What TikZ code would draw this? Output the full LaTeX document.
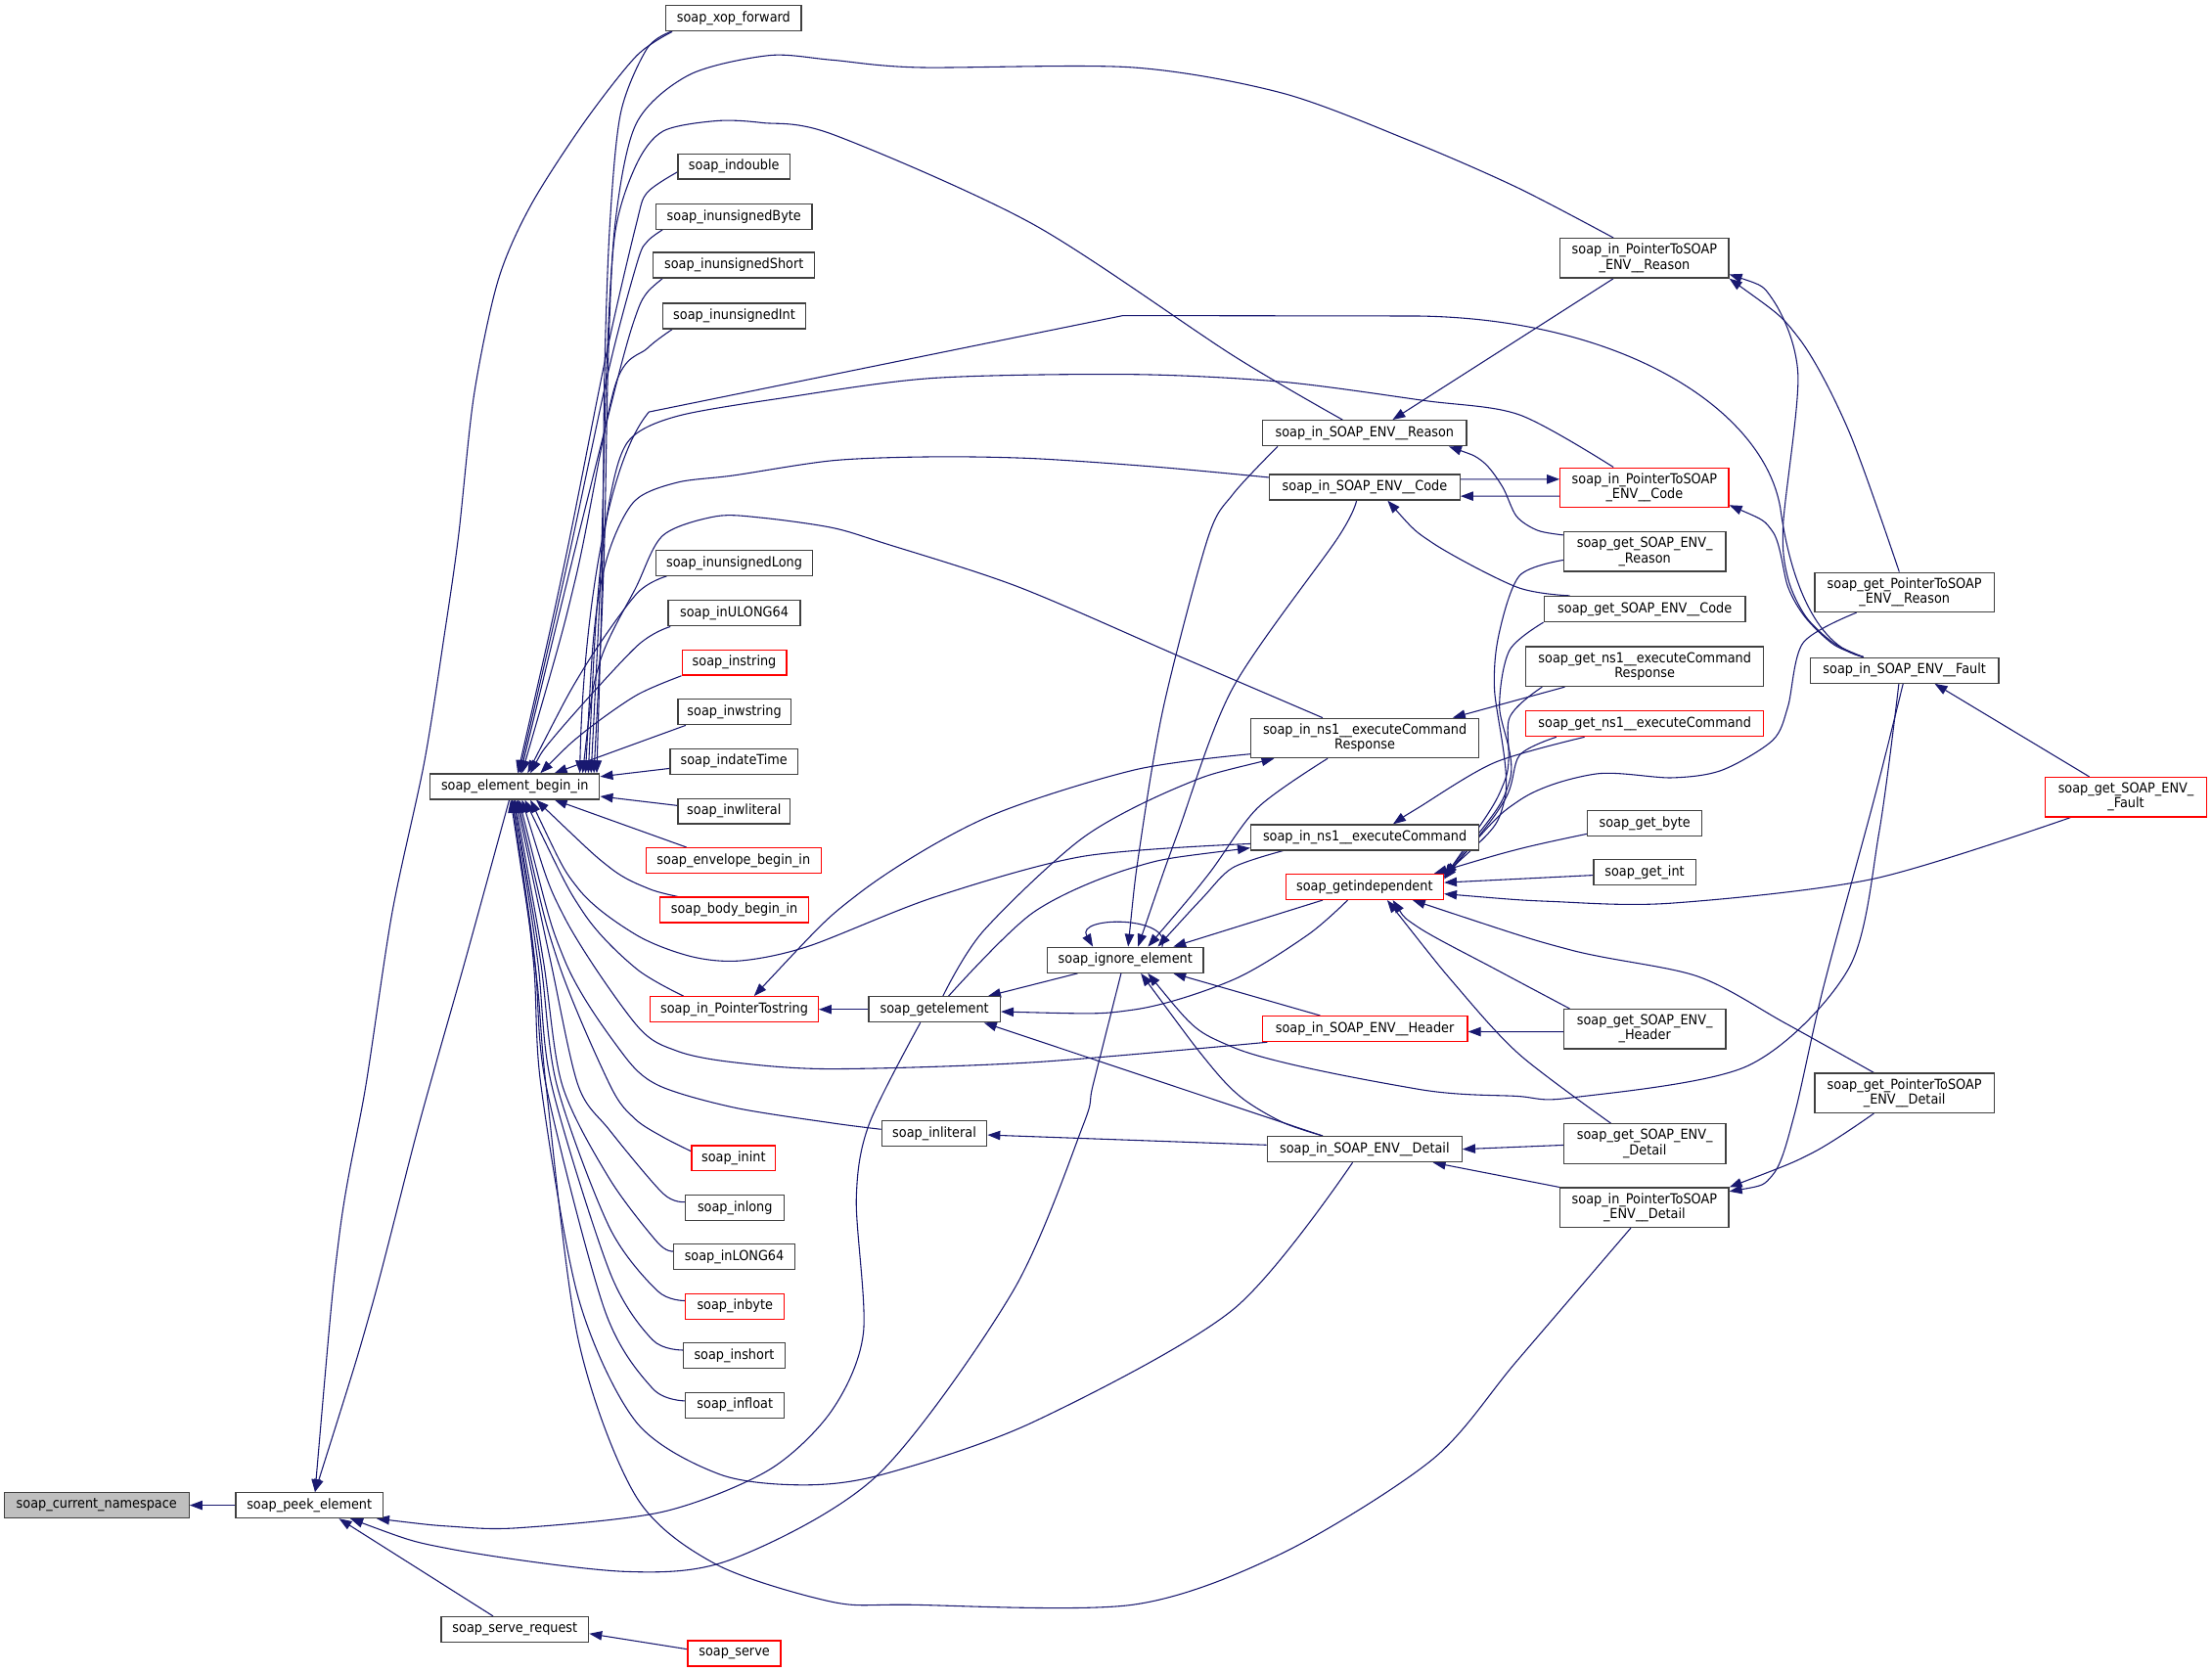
\documentclass[tikz,border=0pt]{standalone}
\usepackage{fontspec}
\setmainfont{DejaVu Sans}[FakeStretch=0.91]
\usetikzlibrary{arrows.meta}
\definecolor{edgecol}{HTML}{191970}
\definecolor{bordercol}{HTML}{404040}
\pgfdeclarelayer{bg}
\pgfsetlayers{bg,main}
\begin{document}
\begin{tikzpicture}[x=1pt,y=-1pt,
  nd/.style={draw=bordercol, line width=0.9pt, fill=white, inner sep=0pt, minimum height=18pt, font=\fontsize{9.8}{10.6}\selectfont, text=black},
  rd/.style={draw=red},
  tw/.style={minimum height=28pt, align=center},
  edg/.style={draw=edgecol, line width=0.75pt, {Triangle[length=9pt,width=6.5pt]}-}]
\useasboundingbox (0,0) rectangle (1568,1185);
% nodes
\node[nd,fill=black!25,minimum width=131pt] (cn) at (68.5,1067) {soap\_current\_namespace};
\node[nd,minimum width=104.5pt] (pe) at (219.3,1067) {soap\_peek\_element};
\node[nd,minimum width=104.5pt] (sr) at (365,1155) {soap\_serve\_request};
\node[nd,rd,minimum width=66pt] (sv) at (520.5,1172) {soap\_serve};
\node[nd,minimum width=120pt] (eb) at (365,557.5) {soap\_element\_begin\_in};
\node[nd,minimum width=96pt] (xf) at (520,13) {soap\_xop\_forward};
\node[nd,minimum width=79.5pt] (idb) at (520.3,118) {soap\_indouble};
\node[nd,minimum width=110.6pt] (iub) at (520.3,153.5) {soap\_inunsignedByte};
\node[nd,minimum width=114.5pt] (ius) at (520.3,188) {soap\_inunsignedShort};
\node[nd,minimum width=101pt] (iui) at (520.5,224) {soap\_inunsignedInt};
\node[nd,minimum width=111pt] (iul) at (520.5,399) {soap\_inunsignedLong};
\node[nd,minimum width=93.6pt] (iU64) at (520.5,434.7) {soap\_inULONG64};
\node[nd,rd,minimum width=74pt] (ist) at (520.5,469.6) {soap\_instring};
\node[nd,minimum width=80pt] (iws) at (520.5,504.7) {soap\_inwstring};
\node[nd,minimum width=90.7pt] (idt) at (520.3,539.7) {soap\_indateTime};
\node[nd,minimum width=79.5pt] (iwl) at (520.3,575) {soap\_inwliteral};
\node[nd,rd,minimum width=124pt] (env) at (520,610) {soap\_envelope\_begin\_in};
\node[nd,rd,minimum width=105pt] (body) at (520.5,645) {soap\_body\_begin\_in};
\node[nd,rd,minimum width=119pt] (ipts) at (520.5,715.5) {soap\_in\_PointerTostring};
\node[nd,rd,minimum width=59.6pt] (iint) at (520,821) {soap\_inint};
\node[nd,minimum width=70pt] (ilong) at (521,856) {soap\_inlong};
\node[nd,minimum width=86pt] (iL64) at (520.5,891) {soap\_inLONG64};
\node[nd,rd,minimum width=70pt] (ibyte) at (521,926) {soap\_inbyte};
\node[nd,minimum width=71.8pt] (ishort) at (520.4,961) {soap\_inshort};
\node[nd,minimum width=70pt] (ifloat) at (521,996) {soap\_infloat};
\node[nd,minimum width=93.3pt] (ge) at (662.4,715.5) {soap\_getelement};
\node[nd,minimum width=74.5pt] (ilit) at (662.3,803.5) {soap\_inliteral};
\node[nd,minimum width=110.7pt] (ie) at (797.7,680.5) {soap\_ignore\_element};
\node[nd,rd,minimum width=111.8pt] (gi) at (967.3,628.6) {soap\_getindependent};
\node[nd,minimum width=144.5pt] (iseR) at (967.3,307) {soap\_in\_SOAP\_ENV\_\_Reason};
\node[nd,minimum width=135pt] (iseC) at (967.4,345.4) {soap\_in\_SOAP\_ENV\_\_Code};
\node[nd,tw,minimum width=161.6pt] (incr) at (967.5,523.2) {soap\_in\_ns1\_\_executeCommand\\Response};
\node[nd,minimum width=161.6pt] (inc) at (967.5,593.6) {soap\_in\_ns1\_\_executeCommand};
\node[nd,rd,minimum width=145.4pt] (iseH) at (967.5,729.3) {soap\_in\_SOAP\_ENV\_\_Header};
\node[nd,minimum width=138pt] (iseD) at (967.3,814.6) {soap\_in\_SOAP\_ENV\_\_Detail};
\node[nd,tw,minimum width=119.4pt] (iptR) at (1165.7,183) {soap\_in\_PointerToSOAP\\\_ENV\_\_Reason};
\node[nd,tw,rd,minimum width=119.4pt] (iptC) at (1165.7,345.6) {soap\_in\_PointerToSOAP\\\_ENV\_\_Code};
\node[nd,tw,minimum width=114.8pt] (gseR) at (1165.9,391) {soap\_get\_SOAP\_ENV\_\\\_Reason};
\node[nd,minimum width=142.7pt] (gseC) at (1165.9,431.7) {soap\_get\_SOAP\_ENV\_\_Code};
\node[nd,tw,minimum width=168.5pt] (gncr) at (1165.9,472.5) {soap\_get\_ns1\_\_executeCommand\\Response};
\node[nd,rd,minimum width=168.5pt] (gnc) at (1165.9,513) {soap\_get\_ns1\_\_executeCommand};
\node[nd,minimum width=81pt] (gb) at (1165.9,583.5) {soap\_get\_byte};
\node[nd,minimum width=72.4pt] (gint) at (1165.8,618.4) {soap\_get\_int};
\node[nd,tw,minimum width=114.8pt] (gseH) at (1165.9,729.4) {soap\_get\_SOAP\_ENV\_\\\_Header};
\node[nd,tw,minimum width=114.8pt] (gseD) at (1165.9,810.7) {soap\_get\_SOAP\_ENV\_\\\_Detail};
\node[nd,tw,minimum width=119.4pt] (iptD) at (1165.7,856) {soap\_in\_PointerToSOAP\\\_ENV\_\_Detail};
\node[nd,tw,minimum width=127pt] (gptR) at (1350,419.8) {soap\_get\_PointerToSOAP\\\_ENV\_\_Reason};
\node[nd,minimum width=133.4pt] (iseF) at (1350,475.2) {soap\_in\_SOAP\_ENV\_\_Fault};
\node[nd,tw,minimum width=127pt] (gptD) at (1350,774.8) {soap\_get\_PointerToSOAP\\\_ENV\_\_Detail};
\node[nd,tw,rd,minimum width=114.7pt] (gseF) at (1507,565) {soap\_get\_SOAP\_ENV\_\\\_Fault};
\begin{pgfonlayer}{bg}
\fill[white] (0,0) rectangle (1568,1185);
% peek / namespace
\draw[edg] (cn.east) -- (pe.west);
\draw[edg] plot[smooth] coordinates {([xshift=4pt]pe.north) (240.6,875) (259.4,769) (278,646.8) (300.7,540.6) (315,450) (325,380) (336,280) (353,199) (376,146) (413.5,87.6) (451,39.8) ([xshift=5pt]xf.south west)};
\draw[edg] plot[smooth] coordinates {([xshift=4pt]pe.north) (263,928) (297,797) (330,680) ([xshift=-4pt]eb.south)};
\draw[edg] plot[smooth] coordinates {([xshift=-5pt]pe.south east) (320,1082) (368,1083) (470,1071.6) (545,1042) (589.5,1000) (612,945) (607,850) (616,797) ([xshift=-10pt]ge.south)};
\draw[edg] plot[smooth] coordinates {([xshift=29pt]pe.south) (319.5,1098) (443.6,1114) (520,1104.8) (622.7,1045) (718.2,915) (767.8,797.5) (774.8,769) ([xshift=-3pt]ie.south)};
\draw[edg] ([xshift=21pt]pe.south) -- ([xshift=-15.5pt]sr.north);
\draw[edg] ([yshift=-3pt]sr.east) -- ([yshift=3pt]sv.west);
% element_begin_in top
\draw[edg] plot[smooth] coordinates {([xshift=58pt]eb.north) (427,400) (428.5,265) (432.3,159) (440,80) (458.6,34.5) ([xshift=4pt]xf.south west)};
\draw[edg] plot[smooth] coordinates {([xshift=56pt]eb.north) (428,400) (431,260) (436,159) (451,87.6) (488.7,53) (545,39.3) (589.5,42.5) (651,47.8) (803,47.8) (909,66) (1000,100) (1075,132.7) ([xshift=-22pt]iptR.north)};
\draw[edg] plot[smooth] coordinates {([xshift=54pt]eb.north) (426,400) (430,260) (436,165) (451,116.8) (470,93) (507.5,85.7) (540,87) (590.9,95.5) (732.4,159) (874,252) ([xshift=-15.6pt]iseR.north)};
\draw[edg] plot[smooth] coordinates {([xshift=52pt]eb.north) (424,420) (433,350) (446,312) (480,295) (555.5,282) (661.6,268) (803,265.4) (909.3,270.7) (1010,284) (1077,294) ([xshift=-22pt]iptC.north)};
\draw[edg] plot[smooth] coordinates {([xshift=50pt]eb.north) (422,440) (432,390) (450,355) (480,342) (520,337) (590.9,326.4) (661.6,323.8) (732.4,325) (820,331) ([yshift=7pt]iseC.west)};
\draw[edg] plot[smooth] coordinates {([xshift=48pt]eb.north) (425,470) (451,416) (470,379.5) (507.5,366) (540,367) (589.5,374) (626,384.8) (721.8,416) (838.5,466.3) ([xshift=-30pt]incr.north)};
\draw[edg] ([xshift=46pt]eb.north) .. controls (413,450) and (428,330) .. (460,292) -- (796,223.7) -- (1005,224) .. controls (1150,226) and (1250,290) .. (1262,360) .. controls (1268,405) and (1285,458) .. ([xshift=-29pt]iseF.north);
\draw[edg] plot[smooth] coordinates {([xshift=2pt]eb.north) (400,400) (430,250) (451,159) (458.6,136.7) ([yshift=-4pt]idb.west)};
\draw[edg] plot[smooth] coordinates {([xshift=3pt]eb.north) (402,400) (432,260) (452,185) (459,171) ([xshift=5pt]iub.south west)};
\draw[edg] plot[smooth] coordinates {([xshift=4pt]eb.north) (405,400) (440,260) (452,220) (459,207) ([xshift=7pt]ius.south west)};
\draw[edg] plot[smooth] coordinates {([xshift=5pt]eb.north) (408,410) (436,273.4) (459,246.8) ([xshift=7pt]iui.south west)};
\draw[edg] plot[smooth] coordinates {([xshift=9pt]eb.north) (413.5,474.3) (451,421.2) ([xshift=8pt]iul.south west)};
\draw[edg] plot[smooth] coordinates {([xshift=11pt]eb.north) (394.7,520) (451,458.4) ([xshift=2pt]iU64.south west)};
\draw[edg] plot[smooth] coordinates {([xshift=18pt]eb.north) (413.5,519.4) (451,492.9) (ist.south west)};
\draw[edg] ([xshift=28pt]eb.north) -- ([xshift=6pt]iws.south west);
\draw[edg] ([yshift=7pt]eb.east) -- ([yshift=-5pt]idt.west);
\draw[edg] ([yshift=-7pt]eb.east) -- ([yshift=4pt]iwl.west);
% element_begin_in bottom
\draw[edg] ([xshift=28pt]eb.south) -- ([xshift=29pt]env.north west);
\draw[edg] plot[smooth] coordinates {([xshift=15pt]eb.south) (432.3,615) (460,630) ([xshift=13pt]body.north west)};
\draw[edg] plot[smooth] coordinates {([xshift=11pt]eb.south) (410,630) (451,662.7) (490,678) (525,681) (573.2,670.7) (661.6,636.2) (767.8,607) ([yshift=-4.5pt]inc.west)};
\draw[edg] plot[smooth] coordinates {([xshift=7pt]eb.south) (413.5,646.8) (451,686.6) ([xshift=24pt]ipts.north west)};
\draw[edg] plot[smooth] coordinates {([xshift=5pt]eb.south) (400,650) (451,726.4) (480,745) (520,753) (589.5,757.7) (732.4,753) ([xshift=4pt]iseH.south west)};
\draw[edg] plot[smooth] coordinates {([xshift=3pt]eb.south) (400,680) (440,745) (466,769) (520,785) (589.5,796) ([yshift=3pt]ilit.west)};
\draw[edg] plot[smooth] coordinates {([xshift=2pt]eb.south) (395,680) (432.3,769) (450,793) (470,806) ([yshift=5pt]iint.west)};
\draw[edg] plot[smooth] coordinates {([xshift=1pt]eb.south) (390,680) (409.7,769) (432,801) (470,846) ([yshift=4pt]ilong.west)};
\draw[edg] plot[smooth] coordinates {(eb.south) (385,680) (398.5,769) (432,835.5) (466,880.6) ([yshift=4pt]iL64.west)};
\draw[edg] plot[smooth] coordinates {([xshift=-1pt]eb.south) (383,680) (394.7,769) (432,870) (466,915) ([yshift=4pt]ibyte.west)};
\draw[edg] plot[smooth] coordinates {([xshift=-1pt]eb.south) (381,680) (391,769) (432.3,901.8) (462.4,949.6) ([yshift=4pt]ishort.west)};
\draw[edg] plot[smooth] coordinates {([xshift=-2pt]eb.south) (379,680) (387,769) (428.5,928.3) (462.4,984) ([yshift=3pt]ifloat.west)};
\draw[edg] plot[smooth] coordinates {([xshift=-2pt]eb.south) (378,680) (383.4,769) (410,920) (451,1008) (510,1045) (569.6,1052.6) (626.2,1045) (732.4,1008) (874,928.3) ([xshift=-8.5pt]iseD.south)};
\draw[edg] plot[smooth] coordinates {([xshift=-3pt]eb.south) (380,690) (387,769) (410,950) (451,1061) (507.5,1108.8) (589.5,1135.4) (644,1137.5) (803,1137.5) (909.3,1100.8) (1015.4,1034.5) (1075,965) ([xshift=-9.7pt]iptD.south)};
% getelement
\draw[edg] (ipts.east) -- (ge.west);
\draw[edg] ([xshift=38pt]ge.north) -- ([xshift=22pt]ie.south west);
\draw[edg] plot[smooth] coordinates {([yshift=-1.6pt]ge.east) (803.1,715.8) (873.9,694.6) (927,662.7) ([xshift=-12pt]gi.south)};
\draw[edg] ([xshift=-12pt]ge.south east) -- ([xshift=-29.7pt]iseD.north);
\draw[edg] plot[smooth] coordinates {([xshift=17pt]incr.south west) (838.5,556.6) (767.8,593.7) (697,660) ([xshift=6pt]ge.north)};
\draw[edg] plot[smooth] coordinates {([yshift=2pt]inc.south west) (803.1,615) (732.4,646.8) ([xshift=10pt]ge.north)};
\draw[edg] plot[smooth] coordinates {([xshift=14pt]ipts.north) (608.6,633.5) (697,580.5) (803.1,546) ([yshift=-11.3pt]incr.west)};
% ignore_element
\draw[edg] ([xshift=-23pt]ie.north) .. controls (762,649) and (832,649) .. ([xshift=26pt]ie.north);
\draw[edg] plot[smooth] coordinates {([xshift=2pt]ie.north) (808,600) (825,500) (856.2,381.4) (874,350.3) ([xshift=-61.6pt]iseR.south)};
\draw[edg] plot[smooth] coordinates {([xshift=9pt]ie.north) (835,590) (873.9,487.6) (948.2,381.4) ([xshift=-5.8pt]iseC.south)};
\draw[edg] plot[smooth] coordinates {([xshift=16pt]ie.north) (856.2,620.3) (891.6,572.5) ([xshift=-26.4pt]incr.south)};
\draw[edg] plot[smooth] coordinates {([xshift=23pt]ie.north) (852.7,636.2) (873.9,615) ([xshift=-58pt]inc.south)};
\draw[edg] ([xshift=34pt]ie.north) -- ([xshift=-29.7pt]gi.south);
\draw[edg] ([xshift=34pt]ie.south) -- ([xshift=-31.7pt]iseH.north);
\draw[edg] plot[smooth] coordinates {([xshift=11pt]ie.south) (856.2,753) (880,778) (909.3,795.6) ([xshift=-29.7pt]iseD.north)};
\draw[edg] plot[smooth] coordinates {([xshift=16pt]ie.south) (873.9,742.3) (1005,772) (1075,777) (1113.1,778.2) (1238.7,755.6) (1310.4,686.6) (1332,590) ([xshift=-4pt]iseF.south)};
% getindependent
\draw[edg] plot[smooth] coordinates {([yshift=-1pt]gi.north east) (1066.5,567.2) (1059.3,487.6) (1062.9,447.8) (1077.2,408) ([yshift=-6pt]gseR.west)};
\draw[edg] plot[smooth] coordinates {([yshift=-2pt]gi.north east) (1070,553.9) (1062.9,500.8) (1070,461) (gseC.south west)};
\draw[edg] plot[smooth] coordinates {([yshift=-3pt]gi.north east) (1066.5,553.9) (1070,508.8) ([xshift=12pt]gncr.south west)};
\draw[edg] plot[smooth] coordinates {([yshift=-4pt]gi.north east) (1066.5,567.2) (1077.2,535.3) ([xshift=22pt]gnc.south west)};
\draw[edg] plot[smooth] coordinates {([yshift=-2.5pt]gi.north east) (1077.2,567.2) (1131,548.6) (1184.9,551.3) (1220.7,545.9) (1256.6,524.7) (1267.4,500.8) (1278.1,455.7) ([xshift=-34pt]gptR.south)};
\draw[edg] plot[smooth] coordinates {([xshift=-7pt]gi.north east) (1077.2,601.7) ([yshift=-7.6pt]gb.west)};
\draw[edg] ([yshift=3pt]gi.east) -- ([yshift=-2pt]gint.west);
\draw[edg] plot[smooth] coordinates {([yshift=-5pt]gi.east) (1100,639) (1184.9,640.2) (1328.3,622.9) ([xshift=18.6pt]gseF.south west)};
\draw[edg] plot[smooth] coordinates {([xshift=34pt]gi.south) (1113.1,673.3) (1202.8,691.9) (1265,725) ([xshift=-21.7pt]gptD.north)};
\draw[edg] plot[smooth] coordinates {([xshift=20pt]gi.south) (1005.5,657.4) (1059.3,686.6) ([xshift=4.6pt]gseH.north west)};
\draw[edg] plot[smooth] coordinates {([xshift=16pt]gi.south) (1033.1,699.9) (1077.2,747.6) ([xshift=-24pt]gseD.north)};
% others
\draw[edg] ([xshift=-19pt]incr.north east) -- ([xshift=28pt]gncr.south west);
\draw[edg] plot[smooth] coordinates {([xshift=20pt]inc.north) (1005.5,572.5) (1059.3,540.6) ([xshift=42pt]gnc.south west)};
\draw[edg] plot[smooth] coordinates {(iptR.south east) (1274.5,238.9) (1310.4,305.2) ([xshift=-3.7pt]gptR.north)};
\draw[edg] plot[smooth] coordinates {([yshift=3pt]iptR.south east) (1256.6,212.3) (1274.5,265.4) (1264,372) (1267.4,410) (1280,437) (1300,456) ([xshift=-29pt]iseF.north)};
\draw[edg] plot[smooth] coordinates {([yshift=2pt]iptC.south east) (1256.6,376.9) (1267.4,416) (1280,438) (1300,457) ([xshift=-29pt]iseF.north)};
\draw[edg] ([xshift=19.8pt]iseR.north) -- ([xshift=-22pt]iptR.south);
\draw[edg] plot[smooth] coordinates {([xshift=-13pt]iseR.south east) (1050.8,327) (1065,345) (1075,366) (1090,376) ([yshift=-2.7pt]gseR.north west)};
\draw[edg] plot[smooth] coordinates {([xshift=16.2pt]iseC.south) (1015.4,384.8) (1075,416.1) ([xshift=18.6pt]gseC.north west)};
\draw[edg] ([yshift=5.9pt]iptC.west) -- ([yshift=5.7pt]iseC.east);
\draw[edg] ([yshift=-6.3pt]iseC.east) -- ([yshift=-6.1pt]iptC.west);
\draw[edg] plot[smooth] coordinates {(iptD.north east) (1285.3,816.9) ([xshift=-21.7pt]gptD.south)};
\draw[edg] plot[smooth] coordinates {([yshift=-3pt]iptD.north east) (1256.6,832.8) (1272,790) (1292.5,700) (1328.3,567.2) ([xshift=-1pt]iseF.south)};
\draw[edg] ([xshift=-21pt]iseD.south east) -- (iptD.north west);
\draw[edg] (iseD.east) -- ([yshift=-1pt]gseD.west);
\draw[edg] ([yshift=-1pt]ilit.east) -- ([yshift=3pt]iseD.west);
\draw[edg] ([yshift=-2pt]iseH.east) -- ([yshift=-2pt]gseH.west);
\draw[edg] ([xshift=21.4pt]iseF.south) -- ([xshift=-26pt]gseF.north);
\end{pgfonlayer}
\end{tikzpicture}
\end{document}
